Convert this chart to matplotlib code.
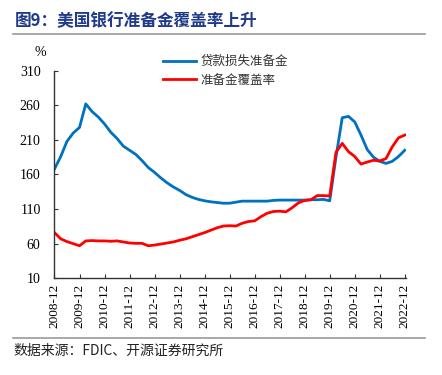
import numpy as np
import matplotlib.pyplot as plt
from matplotlib.lines import Line2D

# quarterly, 2008-12 .. 2022-12
years = list(range(2008, 2023))
tick_labels = ['%d-12' % y for y in years]
y_ticks = [10, 60, 110, 160, 210, 260, 310]

reserve = [168, 186, 208, 220, 228, 262, 251, 243, 233, 221, 212, 201, 195, 189, 180,
           170, 163, 155, 148, 142, 137, 131, 127, 124, 122, 120.5, 119.5, 118.5, 118.5,
           120, 121.5, 121.5, 121.5, 121.5, 121.5, 122.5, 123, 123, 123, 123, 123, 123.5,
           123.5, 124, 122, 185, 242, 244, 236, 217, 196, 185, 179, 176, 179, 186, 195]
coverage = [76, 67, 63, 60, 57, 64, 64.5, 64, 64, 63.5, 64, 62.5, 61, 60.5, 60.5,
            57, 58, 59.5, 61, 62.5, 65, 67, 70, 73, 76, 79.5, 83, 85.5, 86,
            85.5, 89.5, 92, 93, 99, 104, 106.5, 107, 106, 112, 119, 122.5, 123.5,
            129.5, 129.5, 129, 192, 205, 193, 186, 175, 178, 180.5, 179.5, 183, 200, 213, 217]

serif = ['Liberation Serif', 'DejaVu Serif']
cjk = ['Noto Sans CJK SC', 'DejaVu Sans']
plt.rcParams['font.family'] = cjk

x = np.arange(len(reserve))

fig = plt.figure(figsize=(4.42, 3.75), dpi=100)
ax = fig.add_axes([0.1233, 0.2579, 0.7953, 0.5536])

ax.plot(x, reserve, color='#0070C0', lw=2.0, label='贷款损失准备金')
ax.plot(x, coverage, color='#FF0000', lw=2.0, label='准备金覆盖率')

ax.set_xlim(0, 56.2)
ax.set_ylim(10, 310)
ax.tick_params(direction='in', length=3, width=0.8, color='#333333', pad=4)
ax.tick_params(axis='y', pad=10)
ax.set_yticks(y_ticks)
ax.set_yticklabels([str(v) for v in y_ticks], fontfamily=serif, fontsize=10)
ax.set_xticks(np.arange(0, 57, 4))
ax.set_xticklabels(tick_labels, rotation=90, fontfamily=serif, fontsize=9.5)
for s in ['top', 'right']:
    ax.spines[s].set_visible(False)
for s in ['left', 'bottom']:
    ax.spines[s].set_color('#333333')
    ax.spines[s].set_linewidth(1.0)

fig.text(40 / 442, 1 - 53 / 375, '%', fontfamily=serif, fontsize=10, ha='center', va='center')

leg = ax.legend(loc='upper left', bbox_to_anchor=(163 / 442, 1 - 55 / 375),
                bbox_transform=fig.transFigure, frameon=False, fontsize=9,
                handlelength=2.6, handletextpad=0.4, labelspacing=0.45,
                borderpad=0, borderaxespad=0)
for t in leg.get_texts():
    t.set_color('#333333')

fig.text(15 / 442, 1 - 21 / 375, '图9：美国银行准备金覆盖率上升', fontsize=12, fontweight='bold',
         color='#1F3A8A', ha='left', va='center')
fig.add_artist(Line2D([13 / 442, 425 / 442], [1 - 34.3 / 375] * 2, color='#999999', lw=1.2))
fig.add_artist(Line2D([13 / 442, 425 / 442], [1 - 338.3 / 375] * 2, color='#999999', lw=1.2))
fig.text(13 / 442, 1 - 351 / 375, '数据来源：FDIC、开源证券研究所', fontsize=10,
         color='#222222', ha='left', va='center', fontfamily=['Noto Sans CJK SC', 'Liberation Serif'])

fig.savefig('out.png', dpi=100)
